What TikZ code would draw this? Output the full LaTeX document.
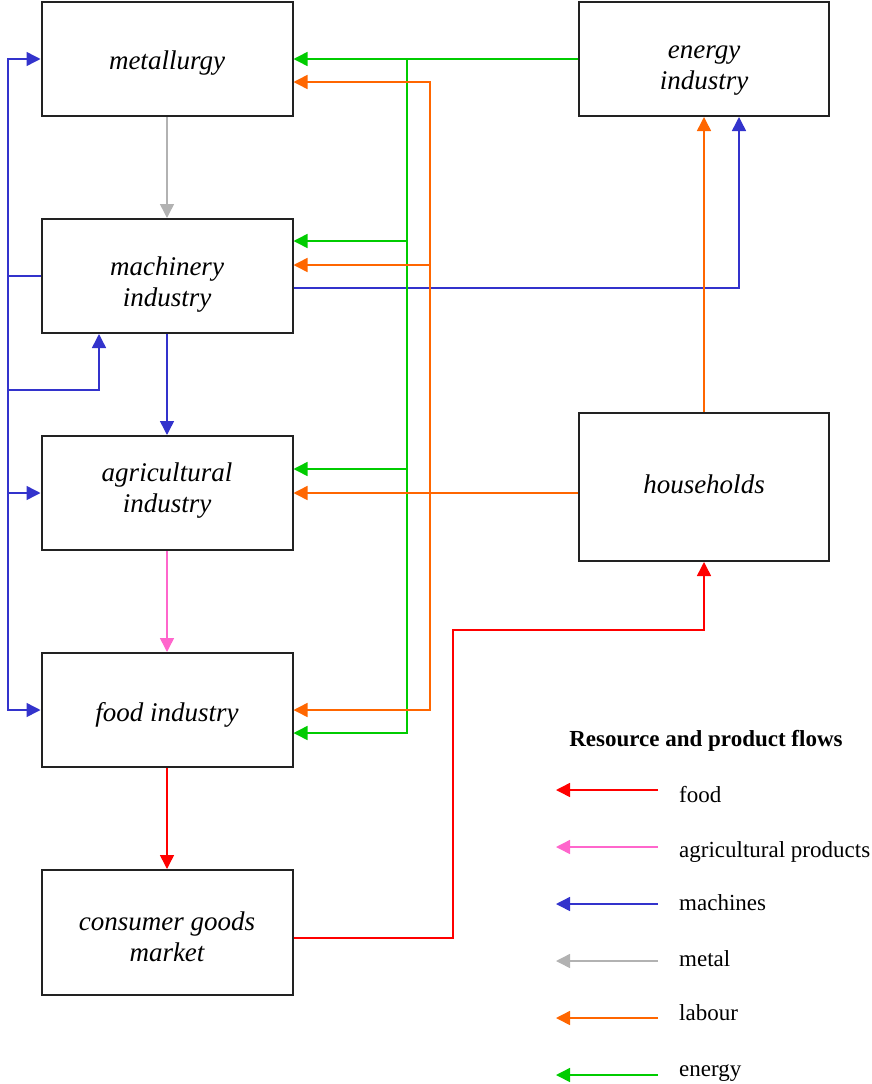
\documentclass[tikz,border=0pt]{standalone}
\usepackage{fontspec}
\setmainfont{Liberation Serif}
\usetikzlibrary{arrows.meta}
\definecolor{cred}{HTML}{FF0000}
\definecolor{cpink}{HTML}{FF66CC}
\definecolor{cblue}{HTML}{3333CC}
\definecolor{cgray}{HTML}{B2B2B2}
\definecolor{corange}{HTML}{FF6600}
\definecolor{cgreen}{HTML}{00CC00}
\definecolor{cbox}{HTML}{222222}
\begin{document}
\begin{tikzpicture}[x=1pt,y=-1pt,
  box/.style={draw=cbox,line width=2pt,rectangle,inner sep=0pt},
  lbl/.style={inner sep=0pt,align=center,font=\fontsize{27}{31}\selectfont\itshape},
  flow/.style={line width=1.5pt,-{Triangle[length=14pt,width=14pt]}},
  foodf/.style={flow,color=cred},
  agrif/.style={flow,color=cpink},
  machf/.style={flow,color=cblue},
  metf/.style={flow,color=cgray},
  labf/.style={flow,color=corange},
  enf/.style={flow,color=cgreen},
  legtext/.style={anchor=base west,inner sep=0pt,font=\fontsize{23}{27}\selectfont},
]
\useasboundingbox (0,0) rectangle (871,1084);
% boxes
\node[box,minimum width=251pt,minimum height=114pt,label={[lbl,yshift=-4pt]center:metallurgy}] (met) at (167,59) {};
\node[box,minimum width=251pt,minimum height=114pt,label={[lbl,yshift=-9pt]center:{machinery\\industry}}] (mach) at (167,276) {};
\node[box,minimum width=251pt,minimum height=114pt,label={[lbl,yshift=2pt]center:{agricultural\\industry}}] (agr) at (167,493) {};
\node[box,minimum width=251pt,minimum height=114pt,label={[lbl,yshift=-5pt]center:food industry}] (food) at (167,710) {};
\node[box,minimum width=251pt,minimum height=125pt,label={[lbl,yshift=-4pt]center:{consumer goods\\market}}] (cons) at (167,932.5) {};
\node[box,minimum width=250pt,minimum height=114pt,label={[lbl,yshift=-12pt]center:{energy\\industry}}] (en) at (704,59) {};
\node[box,minimum width=250pt,minimum height=148pt,label={[lbl,yshift=3pt]center:households}] (hh) at (704,487) {};
% helper coordinates
\coordinate (gbus) at (407,0);
\coordinate (obus) at (430,0);
\coordinate (bbus) at (8,0);
\coordinate (x99) at (99,0);
\coordinate (x453) at (453,0);
\coordinate (x739) at (739,0);
\coordinate (y82) at (0,82);
\coordinate (y241) at (0,241);
\coordinate (y265) at (0,265);
\coordinate (y288) at (0,288);
\coordinate (y390) at (0,390);
\coordinate (y469) at (0,469);
\coordinate (y630) at (0,630);
\coordinate (y733) at (0,733);
\coordinate (y938) at (0,938);
% metal
\draw[metf] (met.south) -- (mach.north);
% machines
\draw[machf] (mach.south) -- (agr.north);
\draw[machf] (mach.east |- y288) -| (x739 |- en.south);
\draw[machf] (mach.west) -- (bbus |- mach.west) |- (met.west);
\draw[machf] (bbus |- mach.west) |- (agr.west);
\draw[machf] (bbus |- mach.west) |- (food.west);
\draw[machf] (bbus |- mach.west) |- (x99 |- y390) -- (x99 |- mach.south);
% agricultural products
\draw[agrif] (agr.south) -- (food.north);
% food
\draw[foodf] (food.south) -- (cons.north);
\draw[foodf] (cons.east |- y938) -| (x453 |- y630) -| (hh.south);
% energy
\draw[enf] (en.west) -- (met.east);
\draw[enf] (gbus |- met.east) |- (mach.east |- y241);
\draw[enf] (gbus |- met.east) |- (agr.east |- y469);
\draw[enf] (gbus |- met.east) |- (food.east |- y733);
% labour
\draw[labf] (hh.north) -- (hh.north |- en.south);
\draw[labf] (hh.west |- agr.east) -- (agr.east);
\draw[labf] (obus |- agr.east) |- (met.east |- y82);
\draw[labf] (obus |- agr.east) |- (mach.east |- y265);
\draw[labf] (obus |- agr.east) |- (food.east);
% legend
\node[anchor=base,inner sep=0pt,font=\fontsize{23}{27}\selectfont\bfseries] (legtitle) at (706,746) {Resource and product flows};
\node[legtext] (lfood) at (679,802) {food};
\node[legtext] (lagri) at (679,857) {agricultural products};
\node[legtext] (lmach) at (679,910) {machines};
\node[legtext] (lmet) at (679,966) {metal};
\node[legtext] (llab) at (679,1020) {labour};
\node[legtext] (len) at (679,1076) {energy};
\coordinate (a1) at (658,790); \coordinate (b1) at (556,790);
\coordinate (a2) at (658,847); \coordinate (b2) at (556,847);
\coordinate (a3) at (658,904); \coordinate (b3) at (556,904);
\coordinate (a4) at (658,961); \coordinate (b4) at (556,961);
\coordinate (a5) at (658,1018); \coordinate (b5) at (556,1018);
\coordinate (a6) at (658,1075); \coordinate (b6) at (556,1075);
\draw[foodf] (a1) -- (b1);
\draw[agrif] (a2) -- (b2);
\draw[machf] (a3) -- (b3);
\draw[metf] (a4) -- (b4);
\draw[labf] (a5) -- (b5);
\draw[enf] (a6) -- (b6);
\end{tikzpicture}
\end{document}
